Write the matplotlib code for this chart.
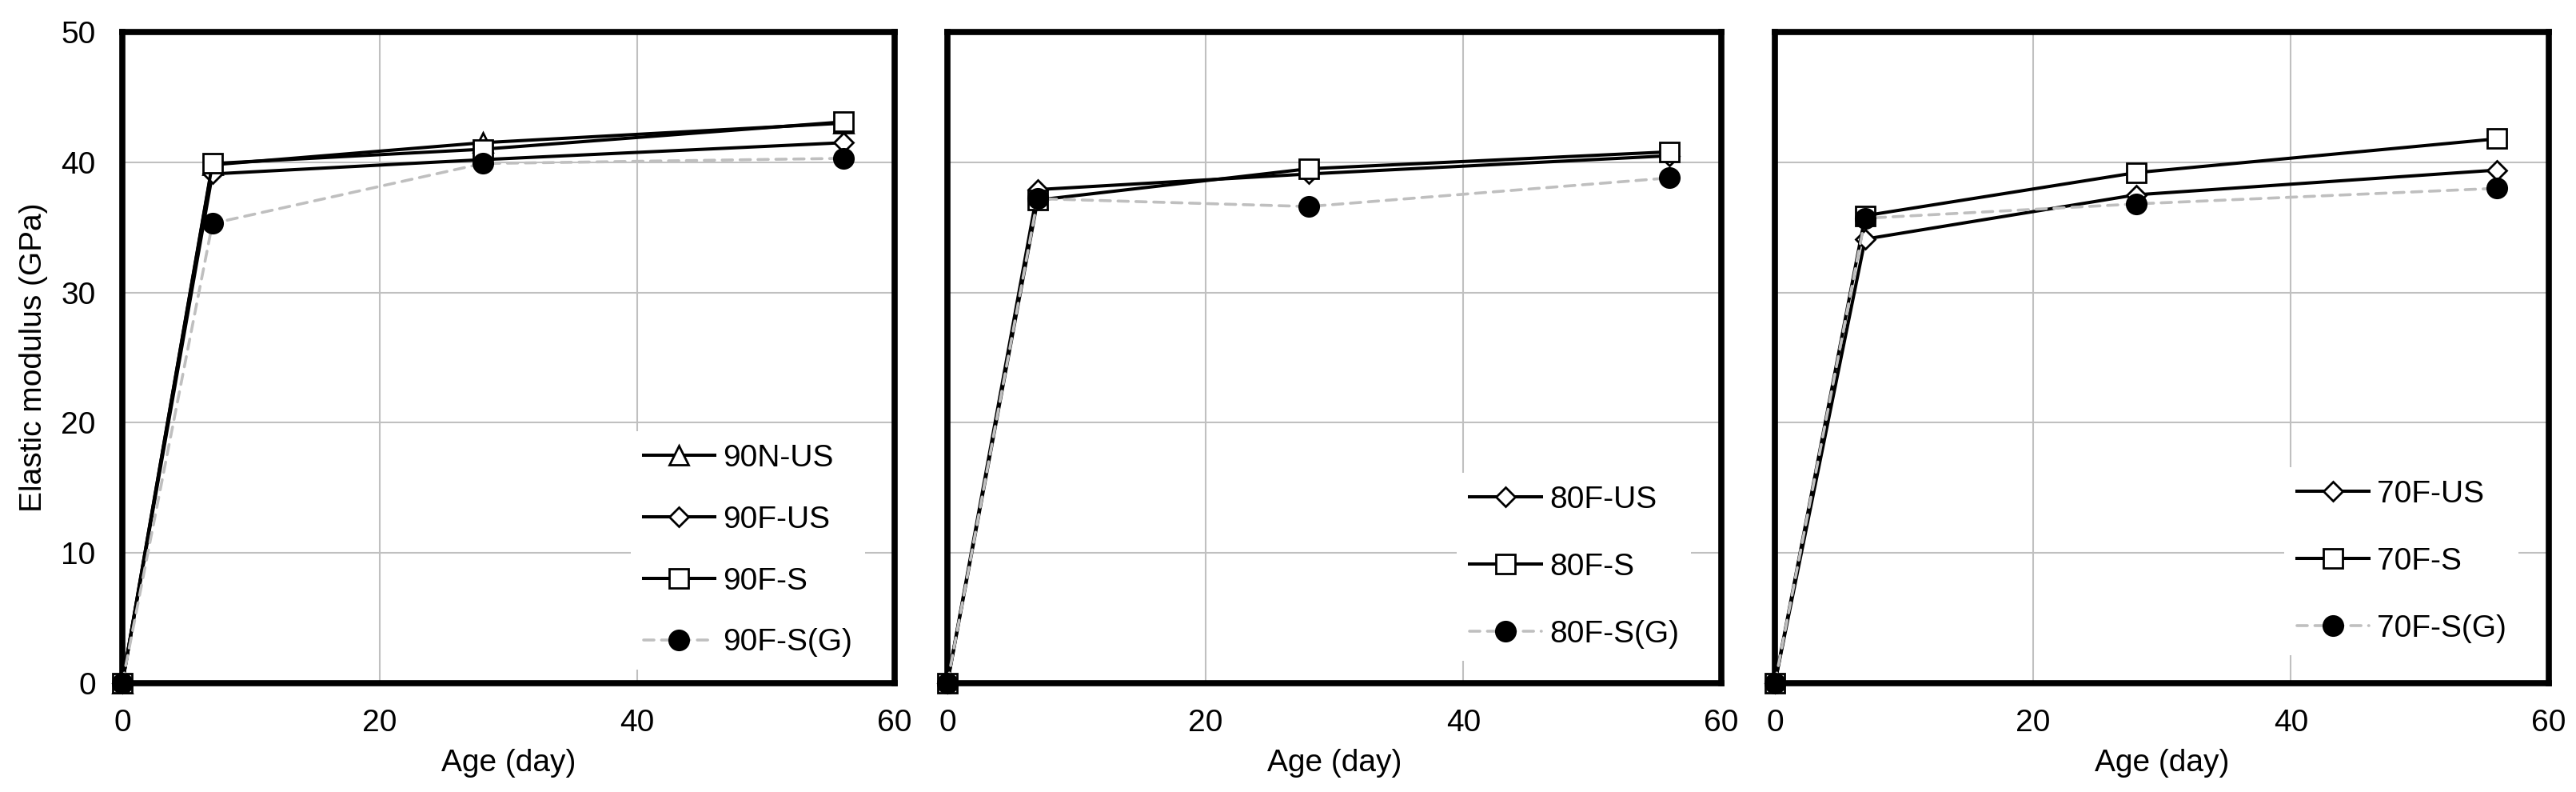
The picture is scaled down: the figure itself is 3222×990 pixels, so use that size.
import matplotlib
matplotlib.use("Agg")
import matplotlib.pyplot as plt

plt.rcParams['font.family'] = ['Liberation Sans', 'DejaVu Sans']

age = [0, 7, 28, 56]

# Panel 1
p1_labels = ["90N-US", "90F-US", "90F-S", "90F-S(G)"]
p1_90N_US = [0, 39.8, 41.5, 43.0]
p1_90F_US = [0, 39.1, 40.2, 41.5]
p1_90F_S = [0, 39.9, 41.0, 43.1]
p1_90F_SG = [0, 35.3, 39.9, 40.3]

# Panel 2
p2_labels = ["80F-US", "80F-S", "80F-S(G)"]
p2_80F_US = [0, 37.9, 39.1, 40.5]
p2_80F_S = [0, 37.1, 39.5, 40.8]
p2_80F_SG = [0, 37.2, 36.6, 38.8]

# Panel 3
p3_labels = ["70F-US", "70F-S", "70F-S(G)"]
p3_70F_US = [0, 34.1, 37.5, 39.4]
p3_70F_S = [0, 35.9, 39.2, 41.8]
p3_70F_SG = [0, 35.7, 36.8, 38.0]

x_ticks = [0, 20, 40, 60]
y_ticks = [0, 10, 20, 30, 40, 50]

FS = 28
W, H = 3222, 990
fig = plt.figure(figsize=(W / 100, H / 100), dpi=100)

bottom = 136 / H
height = 814 / H
ax1 = fig.add_axes([153 / W, bottom, 966 / W, height])
ax2 = fig.add_axes([1185 / W, bottom, 968 / W, height])
ax3 = fig.add_axes([2220 / W, bottom, 968 / W, height])

LW = 2.9
MEW = 2.0
styles = {
    'tri': dict(marker='^', markersize=17, color='black', lw=LW, mfc='white', mec='black', mew=MEW),
    'dia': dict(marker='D', markersize=12.5, color='black', lw=LW, mfc='white', mec='black', mew=MEW),
    'sq': dict(marker='s', markersize=17, color='black', lw=LW, mfc='white', mec='black', mew=MEW),
    'circ': dict(marker='o', markersize=17.5, color='#bfbfbf', lw=2.6, mfc='black', mec='black', mew=MEW,
                 dashes=(3.6, 2.6), dash_capstyle='round'),
}

def setup(ax, show_y):
    ax.set_xlim(0, 60)
    ax.set_ylim(0, 50)
    ax.set_xticks(x_ticks)
    ax.set_yticks(y_ticks)
    ax.grid(True, color='#c0c0c0', lw=1.5)
    ax.set_axisbelow(True)
    for s in ax.spines.values():
        s.set_linewidth(5.5)
        s.set_color('black')
    ax.tick_params(axis='both', length=0, labelsize=FS, pad=24)
    ax.tick_params(axis='x', pad=23)
    if not show_y:
        ax.tick_params(axis='y', labelleft=False)
    ax.set_xlabel("Age (day)", fontsize=FS, labelpad=10)

def leg(ax, anchor, spacing):
    lg = ax.legend(loc='upper left', bbox_to_anchor=anchor, borderaxespad=0,
                   fontsize=FS, frameon=True, fancybox=False, framealpha=1,
                   edgecolor='none', facecolor='white', borderpad=0.4,
                   handlelength=2.31, handletextpad=0.26, labelspacing=spacing)
    lg.set_zorder(5)

setup(ax1, True)
ax1.set_ylabel("Elastic modulus (GPa)", fontsize=FS, labelpad=12)
ax1.plot(age, p1_90N_US, label=p1_labels[0], clip_on=False, zorder=3, **styles['tri'])
ax1.plot(age, p1_90F_US, label=p1_labels[1], clip_on=False, zorder=3, **styles['dia'])
ax1.plot(age, p1_90F_S, label=p1_labels[2], clip_on=False, zorder=3, **styles['sq'])
ax1.plot(age, p1_90F_SG, label=p1_labels[3], clip_on=False, zorder=3, **styles['circ'])
leg(ax1, (0.6584, 0.3865), 1.05)

setup(ax2, False)
ax2.plot(age, p2_80F_US, label=p2_labels[0], clip_on=False, zorder=3, **styles['dia'])
ax2.plot(age, p2_80F_S, label=p2_labels[1], clip_on=False, zorder=3, **styles['sq'])
ax2.plot(age, p2_80F_SG, label=p2_labels[2], clip_on=False, zorder=3, **styles['circ'])
leg(ax2, (0.6585, 0.3226), 1.23)

setup(ax3, False)
ax3.plot(age, p3_70F_US, label=p3_labels[0], clip_on=False, zorder=3, **styles['dia'])
ax3.plot(age, p3_70F_S, label=p3_labels[1], clip_on=False, zorder=3, **styles['sq'])
ax3.plot(age, p3_70F_SG, label=p3_labels[2], clip_on=False, zorder=3, **styles['circ'])
leg(ax3, (0.6585, 0.3312), 1.23)

fig.savefig("out.png", dpi=100)
